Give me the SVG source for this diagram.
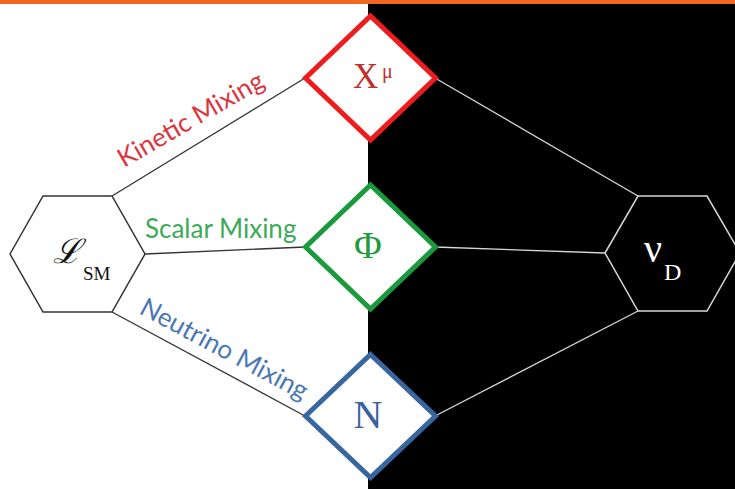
<svg xmlns="http://www.w3.org/2000/svg" width="735" height="489" viewBox="0 0 735 489">
<style>
.lbl{font-family:Lato,"Open Sans","Liberation Sans",sans-serif;font-weight:400;font-size:26px}
.sym{font-family:"Liberation Serif","DejaVu Serif",serif}
.dia{fill:#fff;stroke-width:5;stroke-linejoin:miter}
.lc{stroke:#333;stroke-width:1.3;fill:none}
.rc{stroke:#d8d8d8;stroke-width:1.3;fill:none}
</style>
<rect x="0" y="0" width="735" height="489" fill="#fff"/>
<rect x="368" y="0" width="367" height="489" fill="#000"/>
<rect x="0" y="0" width="735" height="4" fill="#F26522"/>
<g id="connectors">
<line class="lc" x1="112" y1="196" x2="305" y2="78"/>
<line class="lc" x1="145" y1="254" x2="305" y2="247"/>
<line class="lc" x1="112" y1="312" x2="305" y2="416"/>
<line class="rc" x1="435" y1="78" x2="638" y2="196"/>
<line class="rc" x1="435" y1="247" x2="605" y2="253"/>
<line class="rc" x1="435" y1="416" x2="638" y2="311"/>
</g>
<g id="lsm">
<polygon points="10,254 43,196 112,196 145,254 112,312 43,312" fill="#fff" stroke="#333" stroke-width="1.5"/>
<text x="53" y="263" font-size="34" font-family="DejaVu Serif,serif" font-style="italic" fill="#111">ℒ</text>
<text class="sym" x="83" y="280" font-size="19" fill="#111">SM</text>
</g>
<g id="nuD">
<polygon points="605,253 638,196 707,196 740,253 707,311 638,311" fill="#000" stroke="#d8d8d8" stroke-width="1.5"/>
<text class="sym" x="644" y="262" font-size="40" fill="#fff">ν</text>
<text class="sym" x="664" y="280" font-size="24" fill="#fff">D</text>
</g>
<g id="X">
<polygon class="dia" points="370.5,16 435.5,78 370.5,140 305.5,78" stroke="#EE1C1C"/>
<text class="sym" x="353" y="88" font-size="35" fill="#C0302F">X</text>
<text class="sym" x="382" y="78" font-size="20" fill="#C0302F">μ</text>
</g>
<g id="Phi">
<polygon class="dia" points="370.5,185 435.5,247 370.5,309 305.5,247" stroke="#1A9A3C"/>
<text class="sym" x="368" y="258" font-size="38" text-anchor="middle" fill="#1E9B3A">Φ</text>
</g>
<g id="N">
<polygon class="dia" points="370.5,354.5 435.5,416 370.5,477.5 305.5,416" stroke="#3A66A0"/>
<text class="sym" x="368" y="428" font-size="40" text-anchor="middle" fill="#3B62A0">N</text>
</g>
<g id="labels">
<text class="lbl" transform="translate(124,168) rotate(-30)" fill="#D9363E">Kinetic Mixing</text>
<text class="lbl" x="145" y="238" fill="#3DAA5A">Scalar Mixing</text>
<text class="lbl" transform="translate(138,313) rotate(28)" fill="#4A78B5">Neutrino Mixing</text>
</g>
</svg>
